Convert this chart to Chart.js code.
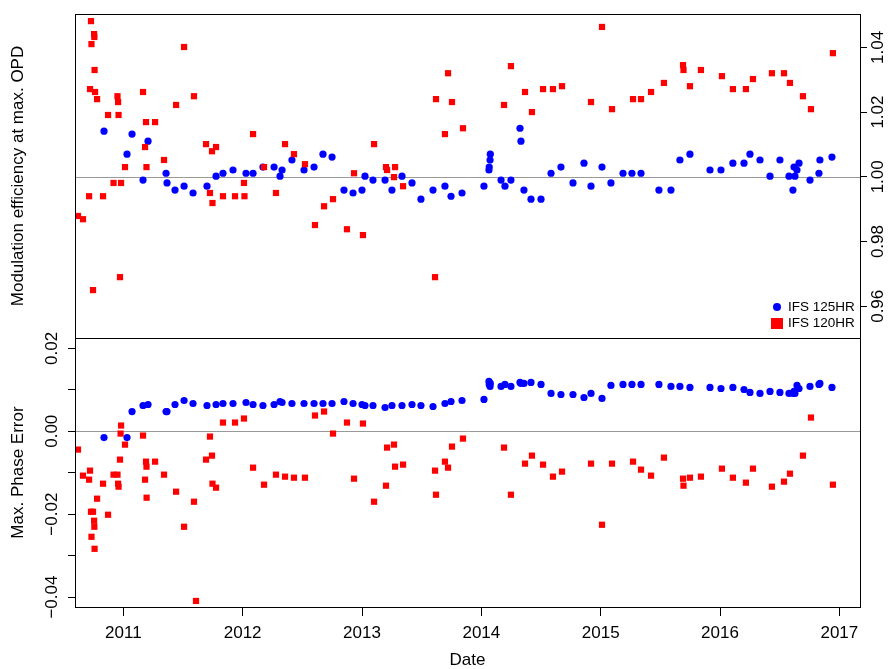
<!DOCTYPE html>
<html>
<head>
<meta charset="utf-8">
<title>IFS modulation efficiency and phase error</title>
<script src="https://cdn.jsdelivr.net/npm/chart.js@4.4.1/dist/chart.umd.min.js"></script>
<style>
  html, body { margin: 0; padding: 0; background: #fff; }
  #wrap { position: relative; width: 893px; height: 669px; overflow: hidden; }
  #wrap canvas { position: absolute; left: 0; top: 0; }
  .mk { position: absolute; }
  .dot { left: 772.5px; top: 302.5px; width: 8.5px; height: 8.5px; border-radius: 50%; background: #0000ff; }
  .sq { left: 771px; top: 317.5px; width: 11.5px; height: 11.5px; background: #ff0000; }
  .lt { position: absolute; left: 788px; height: 16px; line-height: 16px; white-space: nowrap;
        font: 13.5px 'Liberation Sans', Arial, Helvetica, sans-serif; color: #000; }
</style>
</head>
<body>
<div id="wrap">
  <canvas id="chart-eff" width="893" height="669"></canvas>
  <canvas id="chart-phase" width="893" height="669"></canvas>
  <span class="mk dot"></span><span class="lt" style="top:298.7px">IFS 125HR</span>
  <span class="mk sq"></span><span class="lt" style="top:315.3px">IFS 120HR</span>
</div>
<script>
// Axis ranges and ticks
const xMin = 2010.595, xMax = 2017.173;
const yearTicks = [2011, 2012, 2013, 2014, 2015, 2016, 2017];
const yearLabels = ['2011', '2012', '2013', '2014', '2015', '2016', '2017'];
const effMin = 0.9502, effMax = 1.0503;
const effTicks = [0.96, 0.98, 1.00, 1.02, 1.04];
const effLabels = ['0.96', '0.98', '1.00', '1.02', '1.04'];
const phaseMin = -0.0424, phaseMax = 0.0225;
const phaseTicks = [-0.04, -0.03, -0.02, -0.01, 0, 0.01, 0.02];
const phaseLabels = ['\u22120.04', '', '\u22120.02', '', '0.00', '', '0.02'];

// IFS 125HR (decimal year, modulation efficiency, max. phase error)
const dates125 = [2010.838, 2011.031, 2011.073, 2011.165, 2011.207, 2011.358, 2011.366, 2011.433, 2011.509, 2011.584,
  2011.701, 2011.777, 2011.835, 2011.919, 2012.028, 2012.087, 2012.170, 2012.263, 2012.313, 2012.330,
  2012.413, 2012.514, 2012.598, 2012.673, 2012.749, 2012.849, 2012.925, 2013.000, 2013.025, 2013.092,
  2013.193, 2013.251, 2013.335, 2013.419, 2013.494, 2013.595, 2013.695, 2013.746, 2013.838, 2014.022,
  2014.064, 2014.066, 2014.073, 2014.075, 2014.165, 2014.198, 2014.248, 2014.324, 2014.332, 2014.357,
  2014.416, 2014.500, 2014.584, 2014.667, 2014.768, 2014.860, 2014.919, 2015.011, 2015.086, 2015.187,
  2015.262, 2015.338, 2015.488, 2015.589, 2015.664, 2015.748, 2015.916, 2016.008, 2016.108, 2016.201,
  2016.251, 2016.335, 2016.419, 2016.502, 2016.578, 2016.611, 2016.620, 2016.628, 2016.645, 2016.662,
  2016.754, 2016.829, 2016.837, 2016.938];
const modEff125 = [1.0141, 1.0070, 1.0132, 0.9990, 1.0110, 1.0011, 0.9981, 0.9959, 0.9971, 0.9950,
  0.9971, 1.0002, 1.0011, 1.0021, 1.0011, 1.0011, 1.0030, 1.0030, 1.0002, 1.0021,
  1.0052, 1.0021, 1.0030, 1.0070, 1.0061, 0.9959, 0.9950, 0.9959, 1.0002, 0.9990,
  0.9990, 0.9959, 1.0002, 0.9981, 0.9931, 0.9959, 0.9971, 0.9940, 0.9950, 0.9971,
  1.0021, 1.0030, 1.0052, 1.0070, 0.9990, 0.9971, 0.9990, 1.0150, 1.0110, 0.9959,
  0.9931, 0.9931, 1.0011, 1.0030, 0.9981, 1.0042, 0.9971, 1.0030, 0.9981, 1.0011,
  1.0011, 1.0011, 0.9959, 0.9959, 1.0052, 1.0070, 1.0021, 1.0021, 1.0042, 1.0042,
  1.0070, 1.0052, 1.0002, 1.0052, 1.0002, 0.9959, 1.0030, 1.0002, 1.0021, 1.0042,
  0.9990, 1.0011, 1.0052, 1.0061];
const phaseErr125 = [-0.00152, -0.00152, 0.00476, 0.00621, 0.00646, 0.00476, 0.00476, 0.00646, 0.00742, 0.00670,
  0.00621, 0.00646, 0.00670, 0.00670, 0.00694, 0.00646, 0.00621, 0.00646, 0.00718, 0.00694,
  0.00670, 0.00670, 0.00670, 0.00670, 0.00670, 0.00718, 0.00670, 0.00646, 0.00621, 0.00621,
  0.00573, 0.00621, 0.00621, 0.00646, 0.00621, 0.00597, 0.00670, 0.00718, 0.00742, 0.00767,
  0.01202, 0.01129, 0.01081, 0.01153, 0.01081, 0.01129, 0.01081, 0.01178, 0.01153, 0.01153,
  0.01178, 0.01129, 0.00912, 0.00887, 0.00887, 0.00815, 0.00912, 0.00791, 0.01105, 0.01129,
  0.01129, 0.01129, 0.01129, 0.01081, 0.01081, 0.01057, 0.01057, 0.01032, 0.01057, 0.01008,
  0.00936, 0.00912, 0.00960, 0.00936, 0.00912, 0.00912, 0.00960, 0.00912, 0.01105, 0.01032,
  0.01081, 0.01129, 0.01153, 0.01057];

// IFS 120HR (null = not shown in that panel)
const dates120 = [2010.620, 2010.662, 2010.713, 2010.721, 2010.729, 2010.733, 2010.746, 2010.755, 2010.757, 2010.759,
  2010.763, 2010.780, 2010.830, 2010.872, 2010.918, 2010.951, 2010.956, 2010.960, 2010.972, 2010.977,
  2010.981, 2011.014, 2011.165, 2011.182, 2011.190, 2011.194, 2011.195, 2011.266, 2011.341, 2011.442,
  2011.509, 2011.592, 2011.609, 2011.693, 2011.726, 2011.743, 2011.747, 2011.777, 2011.835, 2011.936,
  2012.011, 2012.015, 2012.087, 2012.179, 2012.279, 2012.355, 2012.430, 2012.522, 2012.606, 2012.682,
  2012.757, 2012.874, 2012.933, 2013.008, 2013.101, 2013.201, 2013.210, 2013.268, 2013.277, 2013.344,
  2013.612, 2013.620, 2013.695, 2013.721, 2013.754, 2013.846, 2014.190, 2014.248, 2014.366, 2014.424,
  2014.517, 2014.600, 2014.676, 2014.919, 2015.011, 2015.095, 2015.271, 2015.338, 2015.422, 2015.530,
  2015.690, 2015.694, 2015.748, 2015.840, 2016.016, 2016.108, 2016.217, 2016.276, 2016.435, 2016.536,
  2016.586, 2016.695, 2016.762, 2016.946];
const modEff120 = [0.9879, 0.9869, 0.9940, 1.0271, 1.0481, 1.0410, 0.9650, 1.0441, 1.0432, 1.0330,
  1.0262, 1.0240, 0.9940, 1.0191, 0.9981, 1.0249, 1.0231, 1.0191, 0.9690, null,
  0.9981, 1.0030, 1.0262, 1.0092, 1.0169, 1.0030, null, 1.0169, 1.0052, 1.0222,
  1.0401, 1.0249, null, 1.0101, 0.9950, 1.0079, 0.9919, 1.0092, 0.9940, 0.9940,
  0.9981, 0.9940, 1.0132, 1.0030, 0.9950, 1.0101, 1.0070, 1.0039, 0.9851, 0.9909,
  0.9931, 0.9838, 1.0011, 0.9820, 1.0101, 1.0030, 1.0021, 0.9999, 1.0030, 0.9971,
  0.9690, 1.0240, 1.0132, 1.0320, 1.0231, 1.0150, 1.0222, 1.0342, 1.0262, 1.0200,
  1.0271, 1.0271, 1.0280, 1.0231, 1.0463, 1.0209, 1.0240, 1.0240, 1.0262, 1.0290,
  1.0345, 1.0330, 1.0280, 1.0330, 1.0311, 1.0271, 1.0271, 1.0302, 1.0320, 1.0320,
  1.0290, 1.0249, 1.0209, 1.0382];
const phaseErr120 = [-0.00442, -0.01071, -0.01168, -0.00950, -0.01942, -0.02546, -0.01942, -0.02159, -0.02304, -0.02836,
  null, -0.01627, -0.01265, -0.02014, -0.01047, -0.01047, -0.01265, -0.01337, -0.00684, -0.00056,
  0.00138, -0.00322, -0.00104, -0.01168, -0.00733, -0.00854, -0.01603, -0.00733, -0.01047, -0.01458,
  -0.02304, -0.01700, -0.04094, -0.00684, -0.00128, -0.00588, -0.01265, -0.01361, 0.00210, 0.00210,
  0.00307, null, -0.00878, -0.01289, -0.01047, -0.01095, -0.01120, -0.01120, 0.00380, 0.00476,
  -0.00056, 0.00210, -0.01144, 0.00186, -0.01700, -0.01313, -0.00394, -0.00322, -0.00854, -0.00805,
  -0.00950, -0.01531, -0.00733, -0.00878, -0.00370, -0.00177, -0.00394, -0.01531, -0.00781, -0.00588,
  -0.00805, -0.01095, -0.00974, -0.00781, -0.02256, -0.00781, -0.00733, -0.00926, -0.01071, -0.00636,
  -0.01144, -0.01313, -0.01120, -0.01095, -0.00902, -0.01120, -0.01240, -0.00902, -0.01337, -0.01216,
  -0.01023, -0.00588, 0.00331, -0.01289];

Chart.defaults.font.family = "'Liberation Sans', Arial, Helvetica, sans-serif";
Chart.defaults.font.size = 17;
Chart.defaults.color = '#000';

function pts(dates, vals) {
  return dates.map((d, i) => ({ x: d, y: vals[i] })).filter(p => p.y !== null);
}

// box round the plot region + grey reference line
const framePlugin = {
  id: 'frame',
  beforeDatasetsDraw(chart, args, opts) {
    const { ctx, chartArea: a } = chart;
    const y = Math.round(chart.scales.y.getPixelForValue(opts.refValue)) + 0.5;
    ctx.save();
    ctx.strokeStyle = '#999';
    ctx.lineWidth = 1;
    ctx.beginPath();
    ctx.moveTo(a.left, y);
    ctx.lineTo(a.right, y);
    ctx.stroke();
    ctx.restore();
  },
  afterDraw(chart) {
    const { ctx, chartArea: a } = chart;
    ctx.save();
    ctx.strokeStyle = '#000';
    ctx.lineWidth = 1;
    ctx.strokeRect(Math.round(a.left) + 0.5, Math.round(a.top) + 0.5,
      Math.round(a.right - a.left), Math.round(a.bottom - a.top));
    ctx.restore();
  }
};

const set125 = { label: 'IFS 125HR', pointStyle: 'circle', pointRadius: 3.6, backgroundColor: '#0000ff', borderWidth: 0, order: 2 };
const set120 = { label: 'IFS 120HR', pointStyle: 'rect', pointRadius: 4.4, backgroundColor: '#ff0000', borderWidth: 0, order: 1 };
const tickGrid = { drawOnChartArea: false, drawTicks: true, tickLength: 7, color: '#000', lineWidth: 1 };

new Chart(document.getElementById('chart-eff'), {
  type: 'scatter',
  data: {
    datasets: [
      { ...set125, data: pts(dates125, modEff125), yAxisID: 'y' },
      { ...set120, data: pts(dates120, modEff120), yAxisID: 'y' }
    ]
  },
  options: {
    responsive: false, animation: false, events: [],
    layout: { padding: { top: 14, bottom: 331, left: 0, right: 0 } },
    plugins: { legend: { display: false }, tooltip: { enabled: false }, frame: { refValue: 1 } },
    scales: {
      x: { type: 'linear', display: false, min: xMin, max: xMax },
      y: {
        position: 'right', min: effMin, max: effMax,
        afterBuildTicks: s => { s.ticks = effTicks.map(v => ({ value: v })); },
        afterFit: s => { s.width = 33; },
        grid: tickGrid, border: { display: false },
        ticks: { autoSkip: false, minRotation: 90, maxRotation: 90, crossAlign: 'center', padding: -5,
                 callback: (v, i) => effLabels[i] }
      },
      yl: {
        position: 'left', min: effMin, max: effMax,
        afterFit: s => { s.width = 75; },
        ticks: { display: false }, grid: { display: false }, border: { display: false },
        title: { display: true, text: 'Modulation efficiency at max. OPD', padding: { top: 8, bottom: 0 } }
      }
    }
  },
  plugins: [framePlugin]
});

new Chart(document.getElementById('chart-phase'), {
  type: 'scatter',
  data: {
    datasets: [
      { ...set125, data: pts(dates125, phaseErr125) },
      { ...set120, data: pts(dates120, phaseErr120) }
    ]
  },
  options: {
    responsive: false, animation: false, events: [],
    layout: { padding: { top: 338, bottom: 0, left: 0, right: 33 } },
    plugins: { legend: { display: false }, tooltip: { enabled: false }, frame: { refValue: 0 } },
    scales: {
      x: {
        type: 'linear', position: 'bottom', min: xMin, max: xMax,
        afterBuildTicks: s => { s.ticks = yearTicks.map(v => ({ value: v })); },
        afterFit: s => { s.height = 62; },
        grid: { ...tickGrid, tickLength: 9 }, border: { display: false },
        ticks: { autoSkip: false, minRotation: 0, maxRotation: 0, padding: 7,
                 callback: (v, i) => yearLabels[i] },
        title: { display: true, text: 'Date', font: { lineHeight: 1 }, padding: { top: 0, bottom: 0 } }
      },
      y: {
        position: 'left', min: phaseMin, max: phaseMax,
        afterBuildTicks: s => { s.ticks = phaseTicks.map(v => ({ value: v })); },
        afterFit: s => { s.width = 75; },
        grid: tickGrid, border: { display: false },
        ticks: { autoSkip: false, minRotation: 90, maxRotation: 90, crossAlign: 'center', padding: -6,
                 callback: (v, i) => phaseLabels[i] },
        title: { display: true, text: 'Max. Phase Error', padding: { top: 8, bottom: 0 } }
      }
    }
  },
  plugins: [framePlugin]
});
</script>
</body>
</html>
